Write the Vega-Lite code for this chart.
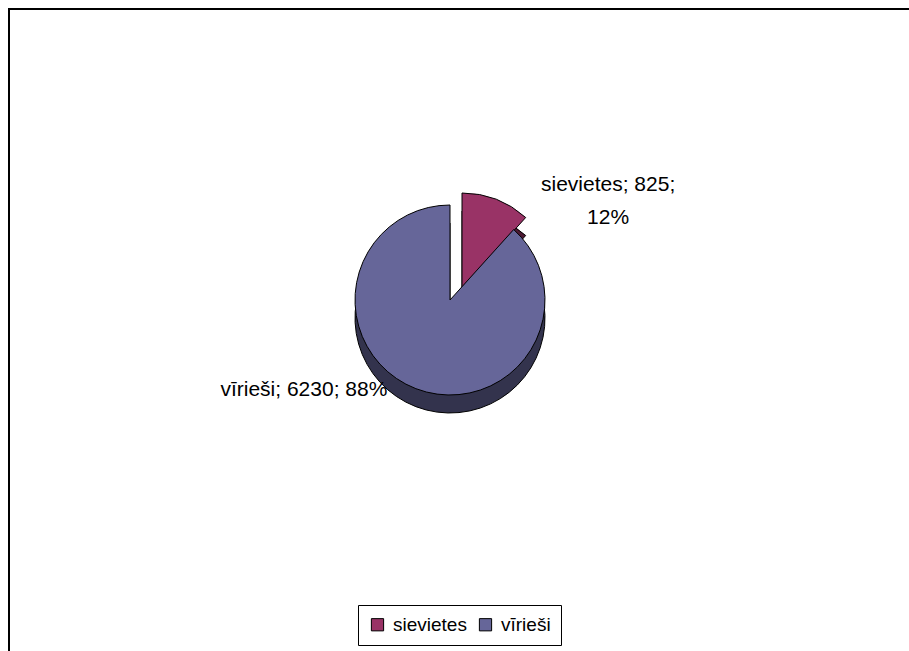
{
  "$schema": "https://vega.github.io/schema/vega-lite/v6.json",
  "width": 920,
  "height": 660,
  "autosize": "none",
  "padding": {"left": 9, "top": 9, "right": 0, "bottom": 0},
  "background": "white",
  "view": {"stroke": "black", "strokeWidth": 2, "fill": "white"},
  "config": {
    "font": "Liberation Sans",
    "text": {"font": "Liberation Sans"}
  },
  "data": {
    "values": [
      {"category": "sievietes", "value": 825, "label": "sievietes; 825;\n12%"},
      {"category": "vīrieši", "value": 6230, "label": "vīrieši; 6230; 88%"}
    ]
  },
  "transform": [
    {"stack": "value", "groupby": [], "sort": [{"field": "category", "order": "ascending"}], "as": ["t0", "t1"]},
    {"calculate": "(datum.t0 + datum.t1) / 2", "as": "tm"}
  ],
  "resolve": {"scale": {"theta": "shared"}},
  "layer": [
    {
      "transform": [{"filter": "datum.category === 'sievietes'"}],
      "mark": {"type": "arc", "outerRadius": 95, "fill": "#4d1a33", "stroke": "black", "strokeWidth": 1, "xOffset": -7, "yOffset": -33},
      "encoding": {
        "theta": {"field": "t1", "type": "quantitative", "stack": null, "scale": {"zero": true}},
        "theta2": {"field": "t0"}
      }
    },
    {
      "transform": [{"filter": "datum.category === 'sievietes'"}],
      "mark": {"type": "arc", "outerRadius": 95, "stroke": "black", "strokeWidth": 1, "xOffset": -7, "yOffset": -51},
      "encoding": {
        "theta": {"field": "t1", "type": "quantitative", "stack": null},
        "theta2": {"field": "t0"},
        "color": {
          "field": "category", "type": "nominal",
          "scale": {"domain": ["sievietes", "vīrieši"], "range": ["#993366", "#666699"]},
          "legend": {
            "title": null,
            "orient": "none",
            "direction": "horizontal",
            "legendX": 349,
            "legendY": 596,
            "strokeColor": "black",
            "padding": 10,
            "symbolType": "square",
            "symbolSize": 150,
            "symbolStrokeColor": "black",
            "symbolStrokeWidth": 1,
            "symbolOpacity": 1,
            "labelFont": "Liberation Sans",
            "labelFontSize": 19,
            "labelColor": "black",
            "labelOffset": 6,
            "columnPadding": 9
          }
        }
      }
    },
    {
      "transform": [{"filter": "datum.category === 'vīrieši'"}],
      "mark": {"type": "arc", "outerRadius": 95, "fill": "#33334d", "stroke": "black", "strokeWidth": 1, "xOffset": -19, "yOffset": -21},
      "encoding": {
        "theta": {"field": "t1", "type": "quantitative", "stack": null},
        "theta2": {"field": "t0"}
      }
    },
    {
      "transform": [{"filter": "datum.category === 'vīrieši'"}],
      "mark": {"type": "arc", "outerRadius": 95, "stroke": "black", "strokeWidth": 1, "xOffset": -19, "yOffset": -39},
      "encoding": {
        "theta": {"field": "t1", "type": "quantitative", "stack": null},
        "theta2": {"field": "t0"},
        "color": {"field": "category", "type": "nominal"}
      }
    },
    {
      "transform": [{"filter": "datum.category === 'sievietes'"}],
      "mark": {"type": "text", "radius": 120, "fontSize": 21, "lineHeight": 33, "lineBreak": "\n", "align": "center", "baseline": "middle", "color": "black", "xOffset": -19, "yOffset": -39, "dx": 115, "dy": -3},
      "encoding": {
        "theta": {"field": "tm", "type": "quantitative", "stack": null},
        "text": {"field": "label"}
      }
    },
    {
      "transform": [{"filter": "datum.category === 'vīrieši'"}],
      "mark": {"type": "text", "radius": 120, "fontSize": 21, "align": "center", "baseline": "middle", "color": "black", "xOffset": -19, "yOffset": -39, "dx": -103, "dy": -22},
      "encoding": {
        "theta": {"field": "tm", "type": "quantitative", "stack": null},
        "text": {"field": "label"}
      }
    }
  ]
}
